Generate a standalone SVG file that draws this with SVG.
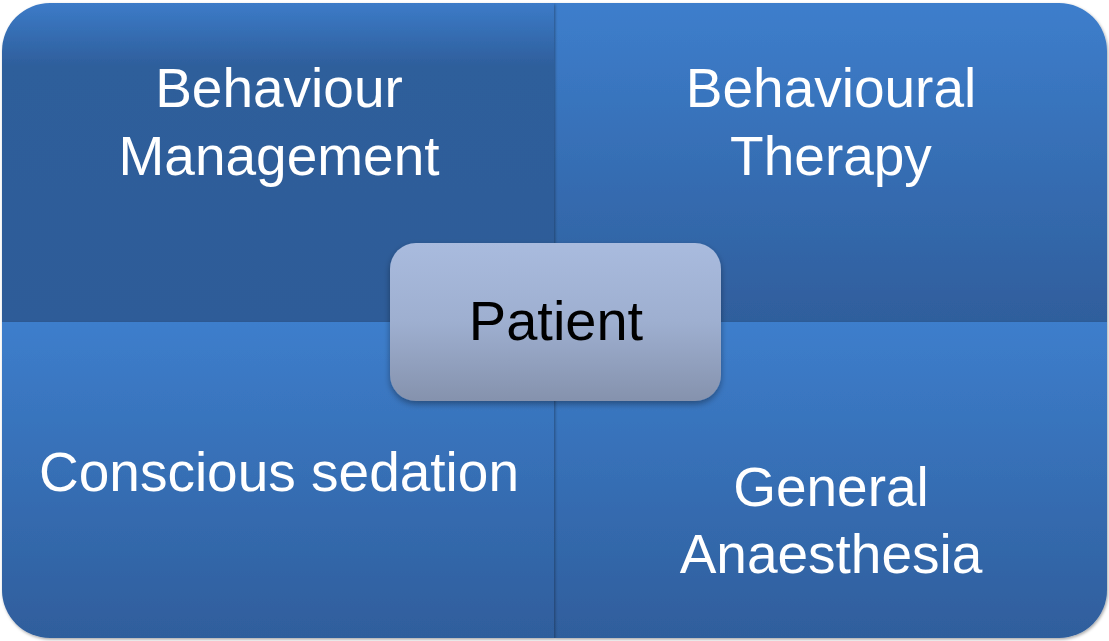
<svg xmlns="http://www.w3.org/2000/svg" width="1109" height="641" viewBox="0 0 1109 641">
<defs>
<linearGradient id="gTL" x1="0" y1="0" x2="0" y2="1">
<stop offset="0" stop-color="#3c7bc8"/>
<stop offset="0.2" stop-color="#2e5e9b"/>
<stop offset="1" stop-color="#2d5c98"/>
</linearGradient>
<linearGradient id="gQ" x1="0" y1="0" x2="0" y2="1">
<stop offset="0" stop-color="#3d7ecc"/>
<stop offset="1" stop-color="#2f5e9c"/>
</linearGradient>
<linearGradient id="gC" x1="0" y1="0" x2="0" y2="1">
<stop offset="0" stop-color="#a9bbde"/>
<stop offset="0.5" stop-color="#9eafd0"/>
<stop offset="1" stop-color="#8592ad"/>
</linearGradient>
<filter id="sh" x="-5%" y="-5%" width="110%" height="115%">
<feDropShadow dx="1" dy="1.5" stdDeviation="1.5" flood-color="#000" flood-opacity="0.35"/>
</filter>
<filter id="shC" x="-10%" y="-10%" width="120%" height="130%">
<feDropShadow dx="0" dy="3" stdDeviation="3" flood-color="#000" flood-opacity="0.35"/>
</filter>
</defs>
<style>
.q { filter: url(#sh); }
.t { font-family: "Liberation Sans", Arial, sans-serif; font-size: 55px; fill: #ffffff; text-anchor: middle; }
.p { font-family: "Liberation Sans", Arial, sans-serif; font-size: 56px; fill: #000000; text-anchor: middle; }
</style>
<rect width="1109" height="641" fill="#ffffff"/>
<g id="behavioural-therapy">
<path class="q" d="M554,3 H1059 A48,48 0 0 1 1107,51 V322 H554 Z" fill="url(#gQ)"/>
<text class="t" x="831" y="107">Behavioural</text>
<text class="t" x="831" y="175">Therapy</text>
</g>
<g id="general-anaesthesia">
<path class="q" d="M554,322 H1107 V590 A48,48 0 0 1 1059,638 H554 Z" fill="url(#gQ)"/>
<text class="t" x="831" y="506">General</text>
<text class="t" x="831" y="573">Anaesthesia</text>
</g>
<g id="behaviour-management">
<path class="q" d="M2,322 V51 A48,48 0 0 1 50,3 H554 V322 Z" fill="url(#gTL)"/>
<text class="t" x="279" y="107">Behaviour</text>
<text class="t" x="279" y="175">Management</text>
</g>
<g id="conscious-sedation">
<path class="q" d="M2,322 H554 V638 H50 A48,48 0 0 1 2,590 Z" fill="url(#gQ)"/>
<text class="t" x="279" y="491">Conscious sedation</text>
</g>
<g id="patient">
<rect x="390" y="243" width="331" height="158" rx="26" ry="26" fill="url(#gC)" filter="url(#shC)"/>
<text class="p" x="556" y="340">Patient</text>
</g>
</svg>
